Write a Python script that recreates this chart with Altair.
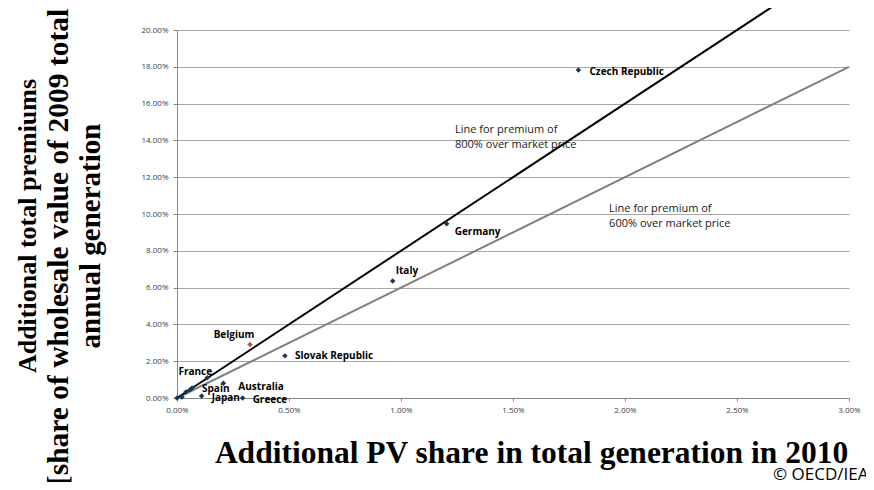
import altair as alt
import pandas as pd

# ---- data ----
countries = ["Czech Republic", "Germany", "Italy", "Slovak Republic", "Belgium",
             "France", "Spain", "Australia", "Japan", "Greece"]
pv_share = [0.01792, 0.01204, 0.00963, 0.00482, 0.00326,
            0.00135, 0.00067, 0.00207, 0.00110, 0.00293]
premium = [0.1782, 0.0947, 0.0636, 0.0229, 0.0291,
           0.0110, 0.0054, 0.0080, 0.0011, 0.0000]

# unlabelled points clustered near the origin
other_pv = [0.0000, 0.00022, 0.00040, 0.00058]
other_premium = [0.0000, 0.0005, 0.0033, 0.0045]

# reference lines (premium of 800% and 600% over market price)
line800_pv = [0.0, 0.0272]
line800_prem = [0.0, 0.2176]
line600_pv = [0.0, 0.0300]
line600_prem = [0.0, 0.1800]

x_ticks = [0.0, 0.005, 0.01, 0.015, 0.02, 0.025, 0.03]
y_ticks = [0.0, 0.02, 0.04, 0.06, 0.08, 0.10, 0.12, 0.14, 0.16, 0.18, 0.20]

y_title_lines = ["Additional total premiums",
                 "[share of wholesale value of  2009 total",
                 "annual generation"]
x_title = "Additional PV share in total generation in 2010"

highlight = "Belgium"

# ---- styling ----
NAVY = "#17375E"
RED = "#C0504D"
LABEL_FONT = "Open Sans"
SERIF = "Liberation Serif"

# label placement per country: (align, dx, dy)
label_place = {
    "Czech Republic": ("left", 11, 2),
    "Germany": ("left", 8, 8),
    "Italy": ("left", 3, -10),
    "Slovak Republic": ("left", 10, 0),
    "Belgium": ("center", -16, -9),
    "France": ("center", -12, -6),
    "Spain": ("left", 10, 1),
    "Australia": ("left", 15, 4),
    "Japan": ("left", 10, 2),
    "Greece": ("left", 10, 2),
}

# y-title line placement: (baseline x, centre y, font size) in px from plot origin
y_title_place = [(-141, 196, 26), (-109, 217, 29.5), (-77, 206, 29)]

pts = pd.DataFrame({"country": countries, "pv": pv_share, "prem": premium})
others = pd.DataFrame({"pv": other_pv, "prem": other_premium})
others["country"] = ""
all_pts = pd.concat([pts, others], ignore_index=True)

x_scale = alt.Scale(domain=[0, 0.03], nice=False, zero=True)
y_scale = alt.Scale(domain=[0, 0.20], nice=False, zero=True)

x_axis = alt.Axis(
    format=".2%", values=x_ticks, grid=False, labelFlush=False, labelOverlap=False,
    title=x_title,
    titleFont=SERIF, titleFontSize=31.5, titleFontWeight="bold", titleColor="black",
    titleAlign="center", titleBaseline="alphabetic", titleX=354, titleY=64,
    labelFont=LABEL_FONT, labelFontSize=8, labelColor="#404040", labelPadding=5,
    tickSize=3, tickColor="#868686", domainColor="#868686")
y_axis = alt.Axis(
    format=".2%", values=y_ticks, grid=True, gridColor="#A6A6A6",
    labelFlush=False, labelOverlap=False, title=None,
    labelFont=LABEL_FONT, labelFontSize=8, labelColor="#404040", labelPadding=5,
    tickSize=4, tickColor="#868686", domainColor="#868686")


def xe():
    return alt.X("pv:Q", scale=x_scale, axis=x_axis)


def ye():
    return alt.Y("prem:Q", scale=y_scale, axis=y_axis)


points = alt.Chart(all_pts).mark_point(
    shape="diamond", filled=True, size=30, opacity=1
).encode(
    x=xe(), y=ye(),
    color=alt.condition(alt.datum.country == highlight, alt.value(RED), alt.value(NAVY)),
)

l800 = alt.Chart(pd.DataFrame({"pv": line800_pv, "prem": line800_prem})).mark_line(
    color="black", strokeWidth=2, clip=False).encode(x=xe(), y=ye())
l600 = alt.Chart(pd.DataFrame({"pv": line600_pv, "prem": line600_prem})).mark_line(
    color="#808080", strokeWidth=2, clip=False).encode(x=xe(), y=ye())

labels = []
for c in countries:
    align, dx, dy = label_place[c]
    labels.append(
        alt.Chart(pts).transform_filter(alt.datum.country == c).mark_text(
            align=align, baseline="middle", dx=dx, dy=dy,
            font=LABEL_FONT, fontSize=10, fontWeight="bold", color="black"
        ).encode(x=xe(), y=ye(), text="country:N")
    )

annot = pd.DataFrame({
    "pv": [0.01241, 0.01929],
    "prem": [0.1458, 0.1027],
    "txt": [["Line for premium of", "800% over market price"],
            ["Line for premium of", "600% over market price"]],
})
annotations = alt.Chart(annot).mark_text(
    align="left", baseline="middle", lineHeight=15,
    font=LABEL_FONT, fontSize=11, color="#1a1a1a"
).encode(x=xe(), y=ye(), text="txt")

ytitle_layers = []
for line, (tx, ty, fs) in zip(y_title_lines, y_title_place):
    ytitle_layers.append(
        alt.Chart(pd.DataFrame({"t": [line]})).mark_text(
            angle=270, align="center", baseline="alphabetic",
            font=SERIF, fontSize=fs, fontWeight="bold", color="black"
        ).encode(x=alt.value(tx), y=alt.value(ty), text="t:N")
    )

copyright_txt = alt.Chart(pd.DataFrame({"t": ["© OECD/IEA"]})).mark_text(
    align="left", baseline="alphabetic", font=LABEL_FONT, fontSize=17, color="black"
).encode(x=alt.value(596), y=alt.value(450), text="t:N")

chart = alt.layer(l600, l800, points, *labels, annotations, *ytitle_layers,
                  copyright_txt).properties(
    width=672, height=368,
    autosize=alt.AutoSizeParams(type="none"),
    padding={"left": 169, "top": 22, "right": 17, "bottom": 84},
).configure_view(stroke=None)

chart.save("out.html", embed_options={"renderer": "svg", "actions": False})
